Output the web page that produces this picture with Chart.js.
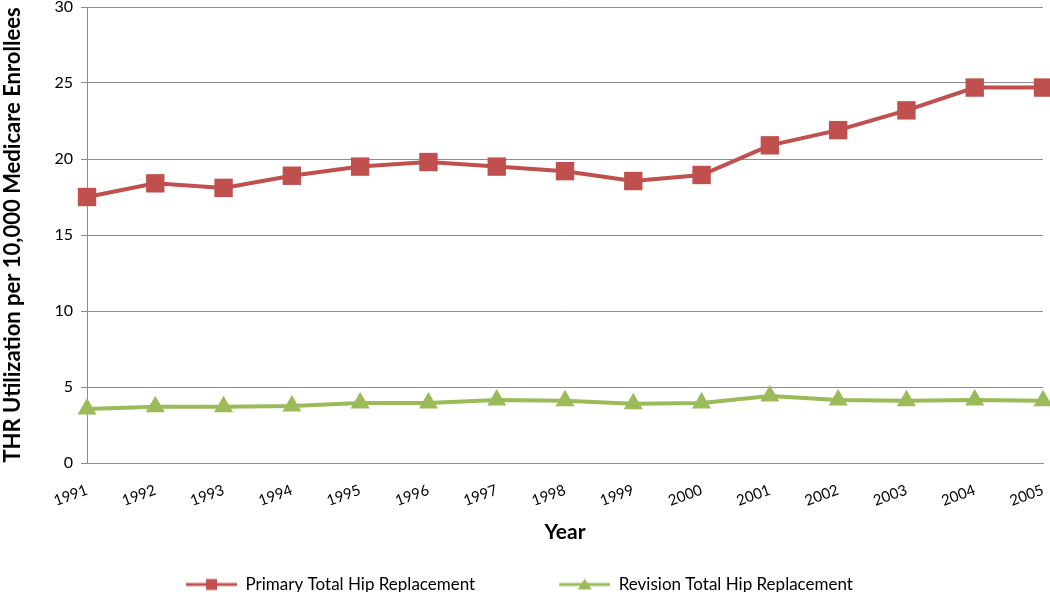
<!DOCTYPE html>
<html>
<head>
<meta charset="utf-8">
<script src="https://cdn.jsdelivr.net/npm/chart.js@4.4.0/dist/chart.umd.min.js"></script>
<style>
  html, body { margin: 0; padding: 0; background: #fff; }
  canvas { display: block; }
</style>
</head>
<body>
<canvas id="chart" width="1050" height="592"></canvas>
<script>
const years = ["1991", "1992", "1993", "1994", "1995", "1996", "1997", "1998",
  "1999", "2000", "2001", "2002", "2003", "2004", "2005"];
const primaryTHR = [17.5, 18.4, 18.1, 18.9, 19.5, 19.8, 19.5, 19.2, 18.55, 18.95, 20.9, 21.9, 23.2, 24.7, 24.7];
const revisionTHR = [3.55, 3.7, 3.7, 3.75, 3.95, 3.95, 4.15, 4.1, 3.9, 3.95, 4.4, 4.15, 4.1, 4.15, 4.1];
const yTicks = [0, 5, 10, 15, 20, 25, 30];

const RED = "#C0504D";
const GREEN = "#9BBB59";
const GRID = "#8c8c8c";
const FONT = "Lato, 'Open Sans', sans-serif";

// line + marker pictures for the legend (blank strip on the left = gap between items)
const GAP = 76;
function legendIcon(color, shape) {
  const c = document.createElement("canvas");
  c.width = GAP + 51;
  c.height = 16;
  const g = c.getContext("2d");
  g.strokeStyle = color;
  g.lineWidth = 3;
  g.beginPath();
  g.moveTo(GAP, 8);
  g.lineTo(GAP + 51, 8);
  g.stroke();
  g.fillStyle = color;
  const mid = GAP + 25.5;
  if (shape === "rect") {
    g.fillRect(mid - 5.5, 2.5, 11, 11);
  } else {
    g.beginPath();
    g.moveTo(mid, 2);
    g.lineTo(mid + 7, 13);
    g.lineTo(mid - 7, 13);
    g.closePath();
    g.fill();
  }
  return c;
}

const icons = [legendIcon(RED, "rect"), legendIcon(GREEN, "triangle")];

new Chart(document.getElementById("chart"), {
  type: "line",
  data: {
    labels: years,
    datasets: [
      {
        label: "Primary Total Hip Replacement",
        data: primaryTHR,
        borderColor: RED,
        backgroundColor: RED,
        borderWidth: 4,
        pointStyle: "rect",
        pointRadius: 13,
        pointBorderWidth: 0,
        tension: 0,
        clip: false,
      },
      {
        label: "Revision Total Hip Replacement",
        data: revisionTHR,
        borderColor: GREEN,
        backgroundColor: GREEN,
        borderWidth: 4,
        pointStyle: "triangle",
        pointRadius: 11,
        pointBorderWidth: 0,
        tension: 0,
        clip: false,
      },
    ],
  },
  options: {
    responsive: false,
    animation: false,
    layout: { autoPadding: false, padding: { top: 7, right: 7, left: 0, bottom: 0 } },
    scales: {
      x: {
        offset: false,
        afterFit: (scale) => {
          scale.height = 94;
          scale.paddingLeft = 0;
          scale.paddingRight = 0;
          scale.paddingTop = 0;
        },
        grid: { display: false, drawTicks: true, tickLength: 6, tickColor: GRID },
        border: { color: GRID, width: 1 },
        ticks: {
          color: "#000",
          font: { family: FONT, size: 15 },
          minRotation: 20,
          maxRotation: 20,
          padding: 12,
          autoSkip: false,
        },
        title: {
          display: true,
          text: "Year",
          color: "#000",
          font: { family: FONT, size: 21, weight: "bold" },
          padding: { top: 0, bottom: 12 },
        },
      },
      y: {
        min: 0,
        max: 30,
        afterBuildTicks: (scale) => {
          scale.ticks = yTicks.map((v) => ({ value: v }));
        },
        afterFit: (scale) => {
          scale.width = 87;
          scale.paddingTop = 0;
          scale.paddingBottom = 0;
        },
        grid: { color: GRID, drawTicks: true, tickLength: 6, tickColor: GRID },
        border: { color: GRID, width: 1 },
        ticks: {
          color: "#000",
          font: { family: FONT, size: 16 },
          padding: 8,
        },
        title: {
          display: true,
          text: "THR Utilization per 10,000 Medicare Enrollees",
          color: "#000",
          font: { family: FONT, size: 22, weight: "bold" },
          padding: { top: 0, bottom: 4 },
        },
      },
    },
    plugins: {
      legend: {
        position: "bottom",
        labels: {
          usePointStyle: true,
          pointStyleWidth: GAP + 51,
          padding: 8,
          color: "#000",
          font: { family: FONT, size: 17 },
          generateLabels: (chart) =>
            chart.data.datasets.map((ds, i) => ({
              text: ds.label,
              pointStyle: icons[i],
              fillStyle: ds.borderColor,
              strokeStyle: ds.borderColor,
              lineWidth: 0,
              datasetIndex: i,
              hidden: false,
            })),
        },
      },
      tooltip: { enabled: false },
    },
  },
  plugins: [
    {
      id: "whiteBackground",
      beforeDraw(chart) {
        const ctx = chart.ctx;
        ctx.save();
        ctx.fillStyle = "#fff";
        ctx.fillRect(0, 0, chart.width, chart.height);
        ctx.restore();
      },
    },
    {
      // move the legend row down and left to where the original sits
      id: "legendNudge",
      afterLayout(chart) {
        const lg = chart.legend;
        if (lg) {
          lg.top += 11;
          lg.bottom += 11;
          lg.left -= 40;
          lg.right -= 40;
        }
      },
    },
  ],
});
</script>
</body>
</html>
